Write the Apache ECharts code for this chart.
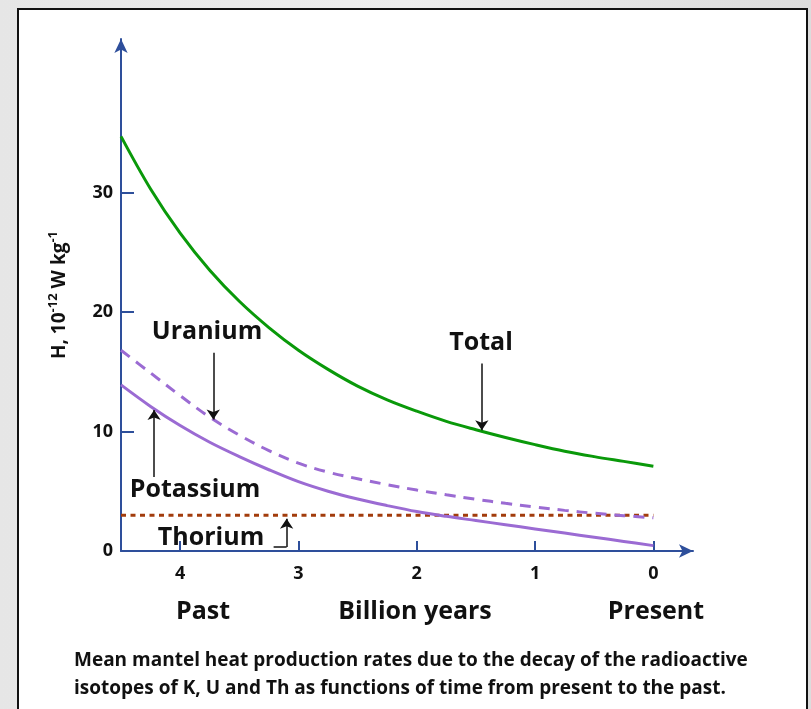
<!DOCTYPE html>
<html>
<head>
<meta charset="utf-8">
<title>Mantle heat production</title>
<script src="https://cdn.jsdelivr.net/npm/echarts@6/dist/echarts.min.js"></script>
<style>
  html, body { margin: 0; padding: 0; }
  body { width: 811px; height: 709px; background: linear-gradient(to right, #e6e6e6, #ededed 50%, #dcdcdc); position: relative; overflow: hidden; }
  #frame { position: absolute; left: 17px; top: 8px; width: 787px; height: 720px; background: #fff; border: 2px solid #111; }
  #chart { position: absolute; left: 0; top: 0; width: 811px; height: 709px; }
</style>
</head>
<body>
<div id="frame"></div>
<div id="chart"></div>
<script>
// time before present, billion years (x axis runs from past on the left to present)
var years = [4.5, 4.25, 4.0, 3.75, 3.5, 3.25, 3.0, 2.75, 2.5, 2.25, 2.0, 1.75, 1.5, 1.25, 1.0, 0.75, 0.5, 0.25, 0];

// H, 10^-12 W/kg
var total     = [34.7, 30.3, 26.6, 23.5, 20.9, 18.7, 16.8, 15.2, 13.8, 12.65, 11.7, 10.85, 10.15, 9.5, 8.9, 8.35, 7.9, 7.5, 7.1];
var uranium   = [16.8, 14.9, 13.0, 11.2, 9.7, 8.4, 7.35, 6.6, 6.05, 5.55, 5.1, 4.7, 4.33, 3.99, 3.68, 3.4, 3.16, 2.96, 2.78];
var potassium = [13.9, 12.1, 10.5, 9.1, 7.9, 6.8, 5.8, 5.0, 4.35, 3.8, 3.3, 2.9, 2.55, 2.2, 1.85, 1.5, 1.15, 0.8, 0.45];
var thorium   = [3.0, 3.0, 3.0, 3.0, 3.0, 3.0, 3.0, 3.0, 3.0, 3.0, 3.0, 3.0, 3.0, 3.0, 3.0, 3.0, 3.0, 3.0, 3.0];

var xTicks = [4, 3, 2, 1, 0];
var yTicks = [10, 20, 30];
var yLabels = [0, 10, 20, 30];

function pairs(vals) {
  return years.map(function (x, i) { return [x, vals[i]]; });
}

var FONT = '"Open Sans", "Noto Sans", sans-serif';
var AXIS = '#2e4f9b';
var INK = '#111';

var chart = echarts.init(document.getElementById('chart'), null, { renderer: 'canvas' });

// annotation arrows, in data units
function arrow(from, to) {
  return [{ coord: from }, { coord: to }];
}

function noteLine(data) {
  return {
    silent: true, animation: false,
    symbol: ['none', 'arrow'], symbolSize: 10,
    label: { show: false },
    lineStyle: { color: INK, width: 1.5, type: 'solid' },
    data: data
  };
}

function label(text, x, y, size) {
  return {
    type: 'text', x: x, y: y,
    style: { text: text, fontFamily: FONT, fontWeight: 'bold', fontSize: size || 25, fill: INK, align: 'center', verticalAlign: 'middle' }
  };
}

chart.setOption({
  animation: false,
  backgroundColor: 'transparent',
  grid: { left: 121, right: 118, top: 39, bottom: 158 },
  xAxis: {
    type: 'value',
    inverse: true,
    min: -0.335,
    max: 4.5,
    axisLine: {
      onZero: false,
      lineStyle: { color: AXIS, width: 2 },
      symbol: ['none', 'arrow'],
      symbolSize: [10, 14]
    },
    axisTick: { inside: true, length: 10, customValues: xTicks, lineStyle: { color: AXIS, width: 2 } },
    axisLabel: {
      customValues: xTicks, margin: 14,
      color: INK, fontFamily: FONT, fontWeight: 'bold', fontSize: 18,
      formatter: function (v) { return String(v); }
    },
    splitLine: { show: false }
  },
  yAxis: {
    type: 'value',
    min: 0,
    max: 42.85,
    name: '{a|H, 10}{s|-12}{a| W kg}{s|-1}',
    nameLocation: 'middle',
    nameRotate: 90,
    nameGap: 48,
    nameTextStyle: {
      rich: {
        a: { fontFamily: FONT, fontWeight: 'bold', fontSize: 19, color: INK, lineHeight: 26 },
        s: { fontFamily: FONT, fontWeight: 'bold', fontSize: 13, color: INK, lineHeight: 14, verticalAlign: 'top' }
      }
    },
    axisLine: {
      show: true,
      onZero: false,
      lineStyle: { color: AXIS, width: 2 },
      symbol: ['none', 'arrow'],
      symbolSize: [10, 14]
    },
    axisTick: { show: true, inside: true, length: 13, customValues: yTicks, lineStyle: { color: AXIS, width: 2 } },
    axisLabel: {
      customValues: yLabels, margin: 8,
      color: INK, fontFamily: FONT, fontWeight: 'bold', fontSize: 18,
      formatter: function (v) { return String(v); }
    },
    splitLine: { show: false }
  },
  series: [
    {
      name: 'Thorium', type: 'line', data: pairs(thorium), showSymbol: false, silent: true, z: 3,
      lineStyle: { color: '#a23c0c', width: 3, type: [5, 4.5] },
      markLine: noteLine([
        [{ coord: [3.21, 0.33], symbol: 'none' }, { coord: [3.10, 0.33], symbol: 'none' }],
        arrow([3.10, 0.33], [3.10, 2.7])
      ])
    },
    {
      name: 'Potassium', type: 'line', data: pairs(potassium), smooth: 0.35, showSymbol: false, silent: true,
      lineStyle: { color: '#9b6bd3', width: 3 },
      markLine: noteLine([arrow([4.22, 6.2], [4.22, 11.8])])
    },
    {
      name: 'Uranium', type: 'line', data: pairs(uranium), smooth: 0.35, showSymbol: false, silent: true,
      lineStyle: { color: '#9b6bd3', width: 3, type: [11, 8] },
      markLine: noteLine([arrow([3.72, 16.6], [3.72, 11.0])])
    },
    {
      name: 'Total', type: 'line', data: pairs(total), smooth: 0.35, showSymbol: false, silent: true,
      lineStyle: { color: '#0a990a', width: 3 },
      markLine: noteLine([arrow([1.45, 15.7], [1.45, 10.1])])
    }
  ],
  graphic: [
    label('Uranium', 207, 332),
    label('Total', 481, 343),
    label('Potassium', 195, 490),
    label('Thorium', 211, 538),
    label('Past', 203, 612),
    label('Billion years', 415, 612),
    label('Present', 656, 612),
    { type: 'text', x: 74, y: 661, style: { text: 'Mean mantel heat production rates due to the decay of the radioactive', fontFamily: FONT, fontWeight: 'bold', fontSize: 19, fill: INK, align: 'left', verticalAlign: 'middle' } },
    { type: 'text', x: 74, y: 689, style: { text: 'isotopes of K, U and Th as functions of time from present to the past.', fontFamily: FONT, fontWeight: 'bold', fontSize: 19, fill: INK, align: 'left', verticalAlign: 'middle' } }
  ]
});
</script>
</body>
</html>
